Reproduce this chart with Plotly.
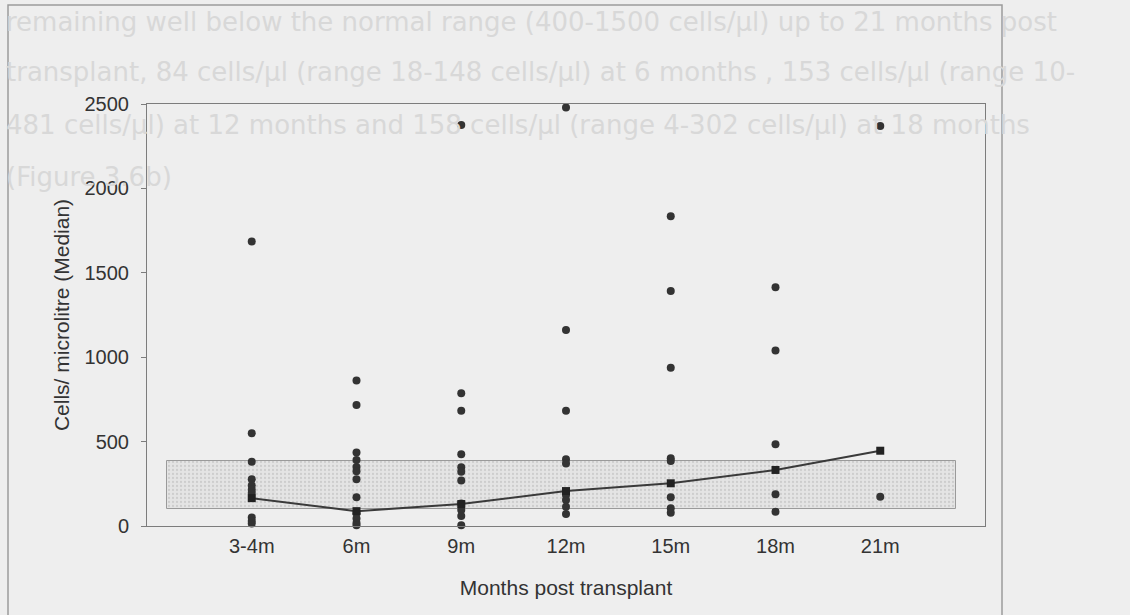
import plotly.graph_objects as go

# ---- data -------------------------------------------------------------
categories = ["3-4m", "6m", "9m", "12m", "15m", "18m", "21m"]

# individual patient counts (cells per microlitre) at each time point
counts_3_4m = [1685, 549, 381, 277, 240, 215, 195, 51, 30, 15]
counts_6m = [862, 717, 436, 391, 350, 325, 277, 170, 75, 45, 18, 5]
counts_9m = [2376, 786, 683, 425, 348, 322, 269, 133, 95, 59, 5]
counts_12m = [2480, 1161, 683, 395, 371, 184, 154, 114, 71]
counts_15m = [1835, 1392, 938, 401, 385, 170, 105, 79]
counts_18m = [1414, 1039, 484, 188, 85]
counts_21m = [2370, 174]

medians = [165, 88, 130, 207, 253, 332, 446]

# shaded reference range
band_low = 100
band_high = 385

y_ticks = [0, 500, 1000, 1500, 2000, 2500]

# ---- layout constants -------------------------------------------------
W, H = 1130, 615
M_L, M_R, M_T, M_B = 147, 145, 104, 89
PW, PH = W - M_L - M_R, H - M_T - M_B
FONT = "Liberation Sans, Arial, sans-serif"
BG = "#eeeeee"
TXT = "#333333"


def px_x(px):
    return (px - M_L) / PW


def px_y(py):
    return (H - M_B - py) / PH


groups = [counts_3_4m, counts_6m, counts_9m, counts_12m,
          counts_15m, counts_18m, counts_21m]
positions = [i + 1 for i in range(len(categories))]

dot_x = [positions[i] for i, g in enumerate(groups) for _ in g]
dot_y = [v for g in groups for v in g]

band_x0, band_x1 = 0.19, 7.72

fig = go.Figure()

# stippled range band
fig.add_trace(go.Bar(
    x=[(band_x0 + band_x1) / 2], y=[band_high - band_low], base=[band_low],
    width=[band_x1 - band_x0],
    marker=dict(color="#e3e3e3",
                pattern=dict(shape=".", fgcolor="#b5b5b5", bgcolor="#e4e4e4",
                             size=4, solidity=0.25),
                line=dict(color="#9a9a9a", width=1)),
    hoverinfo="skip", showlegend=False))

# individual values
fig.add_trace(go.Scatter(
    x=dot_x, y=dot_y, mode="markers",
    marker=dict(size=8, color="#333333"),
    cliponaxis=False, showlegend=False))

# median line
fig.add_trace(go.Scatter(
    x=positions, y=medians, mode="lines+markers",
    line=dict(color="#3a3a3a", width=2),
    marker=dict(symbol="square", size=8, color="#222222"),
    cliponaxis=False, showlegend=False))

# faint text showing through from the facing page
page_lines = [
    "remaining well below the normal range (400-1500 cells/µl) up to 21 months post",
    "transplant, 84 cells/µl (range 18-148 cells/µl) at 6 months , 153 cells/µl (range 10-",
    "481 cells/µl) at 12 months and 158 cells/µl (range 4-302 cells/µl) at 18 months",
    "(Figure 3.6b)",
]
page_y = [22, 72, 125, 177]
annotations = [
    dict(text=t, x=px_x(4), y=px_y(yy), xref="paper", yref="paper",
         xanchor="left", yanchor="middle", showarrow=False,
         font=dict(family="DejaVu Sans, sans-serif", size=26, color="#d8d8d8"))
    for t, yy in zip(page_lines, page_y)
]

shapes = [
    # outer frame of the figure
    dict(type="rect", xref="paper", yref="paper",
         x0=px_x(8), x1=px_x(1002), y0=px_y(630), y1=px_y(5),
         line=dict(color="#9c9c9c", width=1.5), layer="below"),
]

tick_font = dict(family=FONT, size=20, color=TXT)
title_font = dict(family=FONT, size=21, color=TXT)

fig.update_layout(
    width=W, height=H,
    margin=dict(l=M_L, r=M_R, t=M_T, b=M_B, pad=0),
    paper_bgcolor=BG, plot_bgcolor=BG,
    font=dict(family=FONT, color=TXT),
    bargap=0,
    annotations=annotations,
    shapes=shapes,
    xaxis=dict(
        range=[0, 8], tickvals=positions, ticktext=categories,
        showline=True, linecolor="#7c7c7c", linewidth=1, mirror=True,
        ticks="", showgrid=False, zeroline=False,
        tickfont=tick_font, ticklabelstandoff=2,
        title=dict(text="Months post transplant", font=title_font, standoff=24),
    ),
    yaxis=dict(
        range=[0, 2500], tickvals=y_ticks,
        showline=True, linecolor="#7c7c7c", linewidth=1, mirror=True,
        ticks="outside", ticklen=5, tickcolor="#7c7c7c",
        showgrid=False, zeroline=False,
        tickfont=tick_font, ticklabelstandoff=8,
        title=dict(text="Cells/ microlitre (Median)", font=title_font, standoff=9),
    ),
)

fig.write_html("out.html")
